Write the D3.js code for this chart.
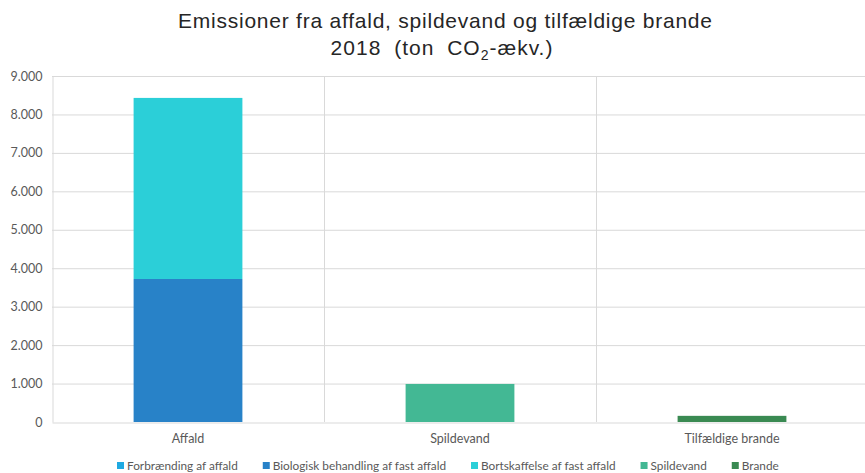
<!DOCTYPE html>
<html>
<head>
<meta charset="utf-8">
<script src="https://cdn.jsdelivr.net/npm/d3@7"></script>
<style>
  html, body { margin: 0; padding: 0; background: #fff; }
  svg { display: block; }
</style>
</head>
<body>
<svg id="chart" width="865" height="473"></svg>
<script>
// Categories along the x axis
const categories = ["Affald", "Spildevand", "Tilfældige brande"];

// Emission sources (stack order, bottom to top) and their colours
const seriesNames = [
  "Forbrænding af affald",
  "Biologisk behandling af fast affald",
  "Bortskaffelse af fast affald",
  "Spildevand",
  "Brande"
];
const seriesColors = ["#1fa9e1", "#2882c8", "#2bcfd8", "#43b894", "#3a8a52"];

// Values in ton CO2-ækv., one array per source, aligned with categories
const forbraending   = [0, 0, 0];
const biologisk      = [3720, 0, 0];
const bortskaffelse  = [4710, 0, 0];
const spildevand     = [0, 990, 0];
const brande         = [0, 0, 160];

// Y-axis ticks
const yTicks = [0, 1000, 2000, 3000, 4000, 5000, 6000, 7000, 8000, 9000];

const seriesValues = [forbraending, biologisk, bortskaffelse, spildevand, brande];
const rows = categories.map((c, i) => {
  const r = { category: c };
  seriesNames.forEach((s, j) => { r[s] = seriesValues[j][i]; });
  return r;
});

const svg = d3.select("#chart");
const margin = { left: 52, right: -3, top: 76, bottom: 51 };
const W = 865, H = 473;
const plotW = W - margin.left - margin.right;
const plotH = H - margin.top - margin.bottom;

const x = d3.scaleBand().domain(categories).range([margin.left, margin.left + plotW]).paddingInner(0).paddingOuter(0);
const y = d3.scaleLinear().domain([0, 9000]).range([margin.top + plotH, margin.top]);

const fmt = v => d3.format(",")(v).replace(/,/g, ".");

// Horizontal gridlines
svg.append("g")
  .selectAll("line").data(yTicks.filter(t => t > 0)).join("line")
  .attr("x1", margin.left).attr("x2", margin.left + plotW)
  .attr("y1", d => y(d) + 0.5).attr("y2", d => y(d) + 0.5)
  .attr("stroke", "#d9d9d9").attr("stroke-width", 1);

// Vertical category separators
svg.append("g")
  .selectAll("line").data(categories.slice(1)).join("line")
  .attr("x1", d => Math.round(x(d)) + 0.5).attr("x2", d => Math.round(x(d)) + 0.5)
  .attr("y1", y(9000)).attr("y2", y(0))
  .attr("stroke", "#d9d9d9").attr("stroke-width", 1);

// Y axis
const yAxis = d3.axisLeft(y).tickValues(yTicks).tickFormat(fmt).tickSize(0).tickPadding(10);
const gy = svg.append("g").attr("transform", `translate(${margin.left + 0.5},0)`).call(yAxis);
gy.select(".domain").attr("stroke", "#d9d9d9");
gy.selectAll("text").attr("font-family", "Lato, 'Open Sans', sans-serif").attr("font-size", 12.5).attr("fill", "#595959");

// X axis
const xAxis = d3.axisBottom(x).tickSize(0).tickPadding(12);
const gx = svg.append("g").attr("transform", `translate(0,${y(0) + 0.5})`).call(xAxis);
gx.select(".domain").attr("stroke", "#d9d9d9");
gx.selectAll("text").attr("font-family", "Lato, 'Open Sans', sans-serif").attr("font-size", 12.5).attr("fill", "#595959");

// Stacked bars
const stack = d3.stack().keys(seriesNames)(rows);
const barW = x.bandwidth() * 0.4;
svg.append("g").selectAll("g").data(stack).join("g")
  .attr("fill", (d, i) => seriesColors[i])
  .selectAll("rect").data(d => d).join("rect")
  .attr("x", d => x(d.data.category) + (x.bandwidth() - barW) / 2)
  .attr("width", barW)
  .attr("y", d => y(d[1]))
  .attr("height", d => y(d[0]) - y(d[1]));

// Title
const title = svg.append("text")
  .attr("text-anchor", "middle")
  .attr("font-family", "'Liberation Sans', Arial, sans-serif").attr("font-size", 21).attr("fill", "#262626");
title.append("tspan").attr("x", 445).attr("y", 28)
  .attr("textLength", 534).attr("lengthAdjust", "spacing")
  .text("Emissioner fra affald, spildevand og tilfældige brande");
const l2 = title.append("tspan").attr("x", 442).attr("y", 55).attr("word-spacing", 6).attr("letter-spacing", 1);
l2.append("tspan").text("2018 (ton CO");
l2.append("tspan").attr("font-size", 14).attr("dy", 5).text("2");
l2.append("tspan").attr("dy", -5).text("-ækv.)");

// Legend
const legend = svg.append("g").attr("font-family", "Lato, 'Open Sans', sans-serif").attr("font-size", 11.8).attr("fill", "#595959");
const items = legend.selectAll("g").data(seriesNames).join("g");
items.append("rect").attr("width", 7).attr("height", 7).attr("y", -8).attr("fill", (d, i) => seriesColors[i]);
items.append("text").attr("x", 10).text(d => d);
let widths = [];
items.each(function () { widths.push(this.getBBox().width); });
const gap = 25;
let cx = 117;
items.attr("transform", (d, i) => { const t = `translate(${cx},470)`; cx += widths[i] + gap; return t; });
</script>
</body>
</html>
